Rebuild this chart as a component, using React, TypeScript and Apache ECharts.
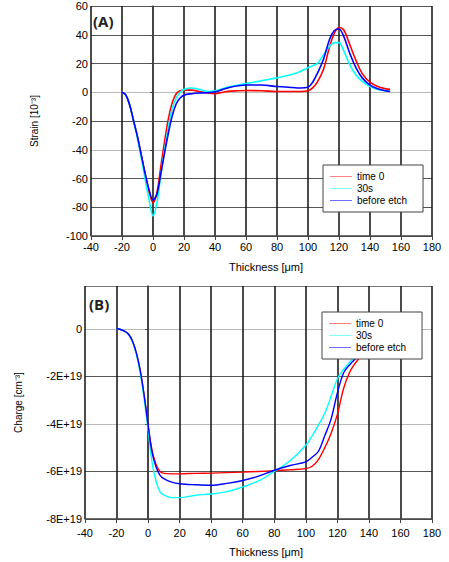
import React, { useEffect, useRef } from "react";
import * as echarts from "echarts";

// ---------- Data ----------
const seriesNames = ["time 0", "30s", "before etch"];
const seriesColors = ["#ff0000", "#00ffff", "#0000ff"];
const legendColors = ["#ff8080", "#80ffff", "#6f6fff"];

const xTicks = [-40, -20, 0, 20, 40, 60, 80, 100, 120, 140, 160, 180];
const yTicksA = [-100, -80, -60, -40, -20, 0, 20, 40, 60];
const yTicksB = [-8e19, -6e19, -4e19, -2e19, 0];
const yMaxB = 1.8e19;

// Panel A
const xA = [-20, -17.5, -15, -12.5, -10, -7.5, -5, -2.5, 0, 2.5, 5, 7.5, 10, 12.5, 15, 17.5, 20, 25, 30, 35, 40, 45, 50, 55, 60, 70, 80, 90, 95, 100, 103, 106, 110, 114, 117, 120, 123, 127, 131, 135, 140, 145, 150, 153];
const redA = [0, -2, -9, -20, -31, -44, -57, -69, -77, -70, -52, -34, -18, -7, -1, 1, 1.5, 1.5, 0.5, -0.5, -1, 0, 0.8, 1, 1.2, 1, 0.5, 0.5, 0.5, 1, 3, 7, 16, 32, 41, 45, 43.5, 33, 22, 13, 7, 4, 2.5, 2];
const cyanA = [0, -2, -9, -20, -32, -46, -61, -75, -86, -77, -58, -40, -24, -11, -4, 0, 2, 3, 2, 0.5, 1, 2.5, 4, 5, 6, 8, 10, 12.5, 14.5, 17, 18.5, 20, 26, 32, 34.5, 34.5, 29, 19, 12, 7.5, 4, 2, 1, 0.6];
const blueA = [0, -2, -9, -20, -31, -44, -57, -68, -75, -71, -57, -42, -28, -16, -8, -4, -2, -1, -0.5, -0.3, 0.3, 2, 3.5, 4.5, 5, 5, 4, 3.3, 3, 3.5, 7, 13, 23, 37, 43, 44, 39, 27, 17, 10, 5, 2.5, 1, 0.5];

// Panel B
const xB = [-20, -17.5, -15, -12.5, -10, -7.5, -5, -2.5, 0, 2.5, 5, 7.5, 10, 15, 20, 30, 40, 50, 60, 70, 80, 90, 100, 104, 108, 112, 116, 120, 124, 128, 133, 138, 143, 148, 153];
const redB = [0, -0.03e19, -0.1e19, -0.22e19, -0.5e19, -1.0e19, -1.75e19, -2.8e19, -4.05e19, -5.1e19, -5.7e19, -6.0e19, -6.08e19, -6.1e19, -6.1e19, -6.08e19, -6.07e19, -6.05e19, -6.03e19, -6.0e19, -5.97e19, -5.93e19, -5.88e19, -5.78e19, -5.5e19, -5.0e19, -4.4e19, -3.6e19, -2.5e19, -1.8e19, -1.3e19, -0.95e19, -0.6e19, -0.3e19, -0.1e19];
const cyanB = [0, -0.03e19, -0.1e19, -0.24e19, -0.52e19, -1.05e19, -1.85e19, -2.95e19, -4.25e19, -5.6e19, -6.4e19, -6.85e19, -7.0e19, -7.1e19, -7.1e19, -7.0e19, -6.95e19, -6.85e19, -6.65e19, -6.4e19, -6.0e19, -5.55e19, -4.9e19, -4.5e19, -4.05e19, -3.55e19, -2.85e19, -2.1e19, -1.7e19, -1.4e19, -1.05e19, -0.75e19, -0.45e19, -0.22e19, -0.08e19];
const blueB = [0, -0.03e19, -0.1e19, -0.22e19, -0.5e19, -1.0e19, -1.75e19, -2.8e19, -4.05e19, -5.2e19, -5.8e19, -6.15e19, -6.3e19, -6.45e19, -6.52e19, -6.56e19, -6.58e19, -6.5e19, -6.38e19, -6.2e19, -5.95e19, -5.75e19, -5.6e19, -5.4e19, -5.15e19, -4.5e19, -3.8e19, -2.7e19, -1.85e19, -1.5e19, -1.15e19, -0.8e19, -0.5e19, -0.25e19, -0.08e19];

const xTitle = "Thickness [μm]";
const yTitleA = "Strain [10⁻³]";
const yTitleB = "Charge [cm⁻³]";

const FONT = "'Liberation Sans', Arial, sans-serif";

function pairs(xs: number[], ys: number[]) {
  return xs.map((x, i) => [x, ys[i]]);
}

export default function App() {
  const ref = useRef<HTMLDivElement>(null);

  useEffect(() => {
    if (!ref.current) return;
    const chart = echarts.init(ref.current, undefined, { renderer: "svg" });

    const xAxisCommon = (gridIndex: number, margin: number) => ({
      type: "value",
      gridIndex,
      min: xTicks[0],
      max: xTicks[xTicks.length - 1],
      interval: 20,
      axisLine: { onZero: false, lineStyle: { color: "#444", width: 1.5 } },
      axisTick: { show: true, length: 4, lineStyle: { color: "#444" } },
      axisLabel: { color: "#000", fontSize: 11, fontFamily: FONT, margin },
      splitLine: { show: true, lineStyle: { color: "#111", width: 1.5 } },
    });

    const dataA = [redA, cyanA, blueA];
    const dataB = [redB, cyanB, blueB];

    const series: any[] = [];
    seriesNames.forEach((name, i) => {
      series.push({
        name,
        type: "line",
        xAxisIndex: 0,
        yAxisIndex: 0,
        data: pairs(xA, dataA[i]),
        showSymbol: false,
        smooth: 0.35,
        lineStyle: { color: seriesColors[i], width: 1.6 },
        itemStyle: { color: seriesColors[i] },
        z: 3 + (i === 2 ? 1 : 0),
      });
    });
    seriesNames.forEach((name, i) => {
      series.push({
        name,
        type: "line",
        xAxisIndex: 1,
        yAxisIndex: 1,
        data: pairs(xB, dataB[i]),
        showSymbol: false,
        smooth: 0.35,
        lineStyle: { color: seriesColors[i], width: 1.4 },
        itemStyle: { color: seriesColors[i] },
        z: 3,
      });
    });

    const legendData = seriesNames.map((name, i) => ({
      name,
      icon: "rect",
      itemStyle: { color: legendColors[i], borderWidth: 0 },
      lineStyle: { color: legendColors[i], width: 1, opacity: 1 },
    }));

    const legendCommon = {
      orient: "vertical",
      data: legendData,
      backgroundColor: "#fff",
      borderColor: "#444",
      borderWidth: 1,
      borderRadius: 0,
      padding: [6, 16, 6, 7],
      itemGap: 1,
      itemWidth: 22,
      itemHeight: 1,
      textStyle: { color: "#000", fontSize: 10, fontFamily: FONT, lineHeight: 11 },
      selectedMode: false,
      zlevel: 2,
      z: 20,
    };

    chart.setOption({
      animation: false,
      backgroundColor: "#fff",
      grid: [
        { left: 91, top: 6, width: 341, height: 230 },
        { left: 85, top: 286, width: 347, height: 233 },
      ],
      xAxis: [xAxisCommon(0, 5), xAxisCommon(1, 8)],
      yAxis: [
        {
          type: "value",
          gridIndex: 0,
          min: yTicksA[0],
          max: yTicksA[yTicksA.length - 1],
          interval: 20,
          axisLine: { show: true, lineStyle: { color: "#444", width: 1.5 } },
          axisTick: { show: true, length: 3, lineStyle: { color: "#444" } },
          axisLabel: { color: "#000", fontSize: 11, fontFamily: FONT, margin: 3 },
          splitLine: {
            show: true,
            lineStyle: {
              color: ["#555", "#555", "#555", "#bbb", "#555", "#bbb", "#555", "#555", "#555"],
              width: 1,
            },
          },
          name: yTitleA,
          nameLocation: "middle",
          nameGap: 52,
          nameTextStyle: { color: "#000", fontSize: 10, fontFamily: FONT },
        },
        {
          type: "value",
          gridIndex: 1,
          min: yTicksB[0],
          max: yMaxB,
          interval: 2e19,
          axisLine: { show: true, lineStyle: { color: "#444", width: 1.5 } },
          axisTick: { show: true, length: 3, lineStyle: { color: "#444" } },
          axisLabel: {
            color: "#000",
            fontSize: 11,
            fontFamily: FONT,
            margin: 3,
            showMaxLabel: false,
            formatter: (v: number) => (v === 0 ? "0" : `${Math.round(v / 1e19)}E+19`),
          },
          splitLine: {
            show: true,
            lineStyle: { color: ["#555", "#555", "#bbb", "#555", "#bbb", "#777"], width: 1 },
          },
          name: yTitleB,
          nameLocation: "middle",
          nameGap: 62,
          nameTextStyle: { color: "#000", fontSize: 10, fontFamily: FONT },
        },
      ],
      legend: [
        { ...legendCommon, left: 323, top: 165 },
        { ...legendCommon, left: 322, top: 312 },
      ],
      graphic: [
        {
          type: "text",
          left: 93,
          top: 13,
          style: { text: "(A)", fontSize: 15, fontWeight: "bold", fontFamily: "'Open Sans', Arial, sans-serif", fill: "#222" },
        },
        {
          type: "text",
          left: 89,
          top: 296,
          style: { text: "(B)", fontSize: 15, fontWeight: "bold", fontFamily: "'Open Sans', Arial, sans-serif", fill: "#222" },
        },
        {
          type: "text",
          x: 266,
          y: 267,
          style: { text: xTitle, fontSize: 11, fontFamily: FONT, fill: "#000", align: "center", verticalAlign: "middle" },
        },
        {
          type: "text",
          x: 266,
          y: 552,
          style: { text: xTitle, fontSize: 11, fontFamily: FONT, fill: "#000", align: "center", verticalAlign: "middle" },
        },
      ],
      series,
    });

    return () => chart.dispose();
  }, []);

  return (
    <div
      ref={ref}
      style={{ position: "fixed", left: 0, top: 0, width: 449, height: 562, background: "#fff" }}
    />
  );
}
